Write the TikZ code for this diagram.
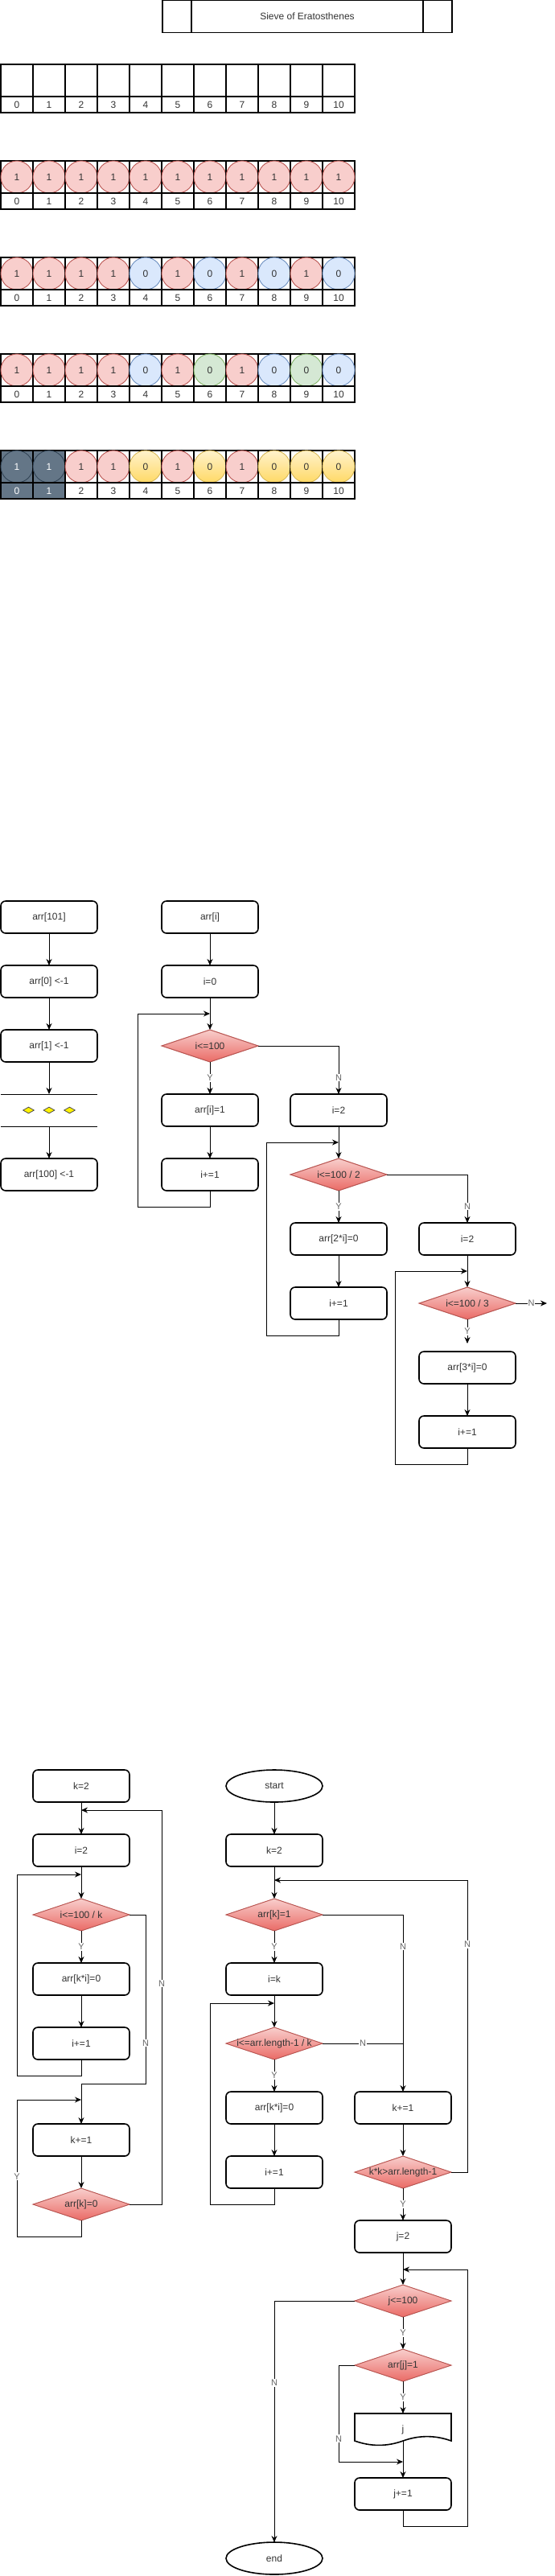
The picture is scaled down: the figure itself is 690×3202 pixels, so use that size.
\documentclass[tikz,border=0pt]{standalone}
\usepackage{fontspec}
\setmainfont{Liberation Sans}
\usepackage{tikz}
\usetikzlibrary{arrows.meta, positioning, shapes.geometric}
\definecolor{pkfill}{HTML}{F8CECC}
\definecolor{pkline}{HTML}{B85450}
\definecolor{blfill}{HTML}{DAE8FC}
\definecolor{blline}{HTML}{6C8EBF}
\definecolor{grfill}{HTML}{D5E8D4}
\definecolor{grline}{HTML}{82B366}
\definecolor{yltop}{HTML}{FFF2CC}
\definecolor{ylbot}{HTML}{FFD966}
\definecolor{ylline}{HTML}{D6B656}
\definecolor{dkfill}{HTML}{647687}
\definecolor{dkline}{HTML}{314354}
\definecolor{redbot}{HTML}{EA6B66}
\definecolor{txtgray}{HTML}{333333}
\definecolor{lblgray}{HTML}{666666}

\begin{document}
\begin{tikzpicture}[x=1pt, y=-1pt,
    box/.style={draw, line width=1.6pt, rounded corners=6pt, fill=white, outer sep=0pt, minimum width=120pt, minimum height=40pt, font=\fontsize{12}{14}\selectfont, text=txtgray},
    decision/.style={diamond, draw=pkline, line width=1pt, top color=pkfill, bottom color=redbot, outer sep=0pt, inner sep=0pt, minimum width=120pt, minimum height=40pt, font=\fontsize{12}{14}\selectfont, text=txtgray, execute at begin node={\hbox to 0pt\bgroup\hss}, execute at end node={\hss\egroup}},
    term/.style={ellipse, draw, line width=1.6pt, fill=white, outer sep=0pt, minimum width=120pt, minimum height=40pt, font=\fontsize{12}{14}\selectfont, text=txtgray},
    arr/.style={-{Stealth[length=8pt, width=7pt]}, line width=1pt},
    yn/.style={fill=white, text=lblgray, font=\fontsize{11}{12}\selectfont, inner sep=1pt},
    cell/.style={draw, line width=1.2pt, minimum width=40pt, minimum height=40pt, inner sep=0pt},
    idx/.style={draw, line width=1.2pt, minimum width=40pt, minimum height=20pt, inner sep=0pt, font=\fontsize{12}{14}\selectfont, text=txtgray},
    dot/.style={circle, minimum size=40pt, inner sep=0pt, line width=0.9pt, font=\fontsize{12}{14}\selectfont, text=txtgray},
    pk/.style={fill=pkfill, draw=pkline},
    bl/.style={fill=blfill, draw=blline},
    gr/.style={fill=grfill, draw=grline},
    yl/.style={top color=yltop, bottom color=ylbot, draw=ylline},
    dk/.style={fill=dkfill, draw=dkline, text=white}
  ]
    \useasboundingbox (0,0) rectangle (690,3202);

    % Title
    \node[draw, line width=1.2pt, outer sep=0pt, minimum width=360pt, minimum height=40pt, font=\fontsize{12}{14}\selectfont, text=txtgray] (title) at (382,20.5) {Sieve of Eratosthenes};
    \draw[line width=1.2pt] ([xshift=36pt]title.north west) -- ([xshift=36pt]title.south west);
    \draw[line width=1.2pt] ([xshift=-36pt]title.north east) -- ([xshift=-36pt]title.south east);

    % Empty array
    \foreach \n in {0,...,10} {
      \node[cell] (ra\n) at (21+40*\n,100) {};
      \node[idx] (rai\n) at (21+40*\n,130) {\n};
    }

    % All ones
    \foreach \n in {0,...,10} {
      \node[cell] (rb\n) at (21+40*\n,220) {};
      \node[dot, pk] (rbv\n) at (21+40*\n,220) {1};
      \node[idx] (rbi\n) at (21+40*\n,250) {\n};
    }

    % Multiples of 2
    \foreach \v/\s [count=\n from 0] in {1/pk,1/pk,1/pk,1/pk,0/bl,1/pk,0/bl,1/pk,0/bl,1/pk,0/bl} {
      \node[cell] (rc\n) at (21+40*\n,340) {};
      \node[dot, \s] (rcv\n) at (21+40*\n,340) {\v};
      \node[idx] (rci\n) at (21+40*\n,370) {\n};
    }

    % Multiples of 3
    \foreach \v/\s [count=\n from 0] in {1/pk,1/pk,1/pk,1/pk,0/bl,1/pk,0/gr,1/pk,0/bl,0/gr,0/bl} {
      \node[cell] (rd\n) at (21+40*\n,460) {};
      \node[dot, \s] (rdv\n) at (21+40*\n,460) {\v};
      \node[idx] (rdi\n) at (21+40*\n,490) {\n};
    }

    % Result
    \foreach \v/\s/\c/\t [count=\n from 0] in {1/dk/dkfill/white,1/dk/dkfill/white,1/pk/white/txtgray,1/pk/white/txtgray,0/yl/white/txtgray,1/pk/white/txtgray,0/yl/white/txtgray,1/pk/white/txtgray,0/yl/white/txtgray,0/yl/white/txtgray,0/yl/white/txtgray} {
      \node[cell, fill=\c] (re\n) at (21+40*\n,580) {};
      \node[dot, \s] (rev\n) at (21+40*\n,580) {\v};
      \node[idx, fill=\c, text=\t] (rei\n) at (21+40*\n,610) {\n};
    }

    % Array setup
    \node[box] (a101) at (61,1140) {arr[101]};
    \node[box, below=40pt of a101] (a0) {arr[0] <-1};
    \node[box, below=40pt of a0] (a1) {arr[1] <-1};
    \coordinate (gaptop) at (61,1360);
    \coordinate (gapmid) at (61,1380);
    \coordinate (gapbot) at (61,1400);
    \node[box, below=40pt of gapbot] (a100) {arr[100] <-1};
    \draw[line width=1pt] ([xshift=-60pt]gaptop) -- ([xshift=60pt]gaptop);
    \draw[line width=1pt] ([xshift=-60pt]gapbot) -- ([xshift=60pt]gapbot);
    \foreach \dx [count=\i] in {-25.5,0,25.5}
      \node[diamond, draw=black!70, fill=yellow, line width=0.8pt, minimum width=14pt, minimum height=8pt, inner sep=0pt] (gd\i) at ([xshift=\dx pt]gapmid) {};
    \draw[arr] (a101) -- (a0);
    \draw[arr] (a0) -- (a1);
    \draw[arr] (a1) -- (gaptop);
    \draw[arr] (gapbot) -- (a100);

    % Fill with ones, then strike 2 and 3
    \node[box] (ai) at (261,1140) {arr[i]};
    \node[box, below=40pt of ai] (i0) {i=0};
    \node[decision, below=40pt of i0] (c100) {i<=100};
    \node[box, below=40pt of c100] (set1) {arr[i]=1};
    \node[box, below=40pt of set1] (inc1) {i+=1};
    \node[box, right=40pt of set1] (i2a) {i=2};
    \node[decision, below=40pt of i2a] (c50) {i<=100 / 2};
    \node[box, below=40pt of c50] (set2) {arr[2*i]=0};
    \node[box, below=40pt of set2] (inc2) {i+=1};
    \node[box, right=40pt of set2] (i2b) {i=2};
    \node[decision, below=40pt of i2b] (c33) {i<=100 / 3};
    \node[box, below=40pt of c33] (set3) {arr[3*i]=0};
    \node[box, below=40pt of set3] (inc3) {i+=1};
    \coordinate (back1) at (261,1260);
    \coordinate (back2) at (421,1420);
    \coordinate (back3) at (581,1580);
    \coordinate (c33y) at (581,1670);
    \coordinate (c33n) at (680,1620);

    \draw[arr] (ai) -- (i0);
    \draw[arr] (i0) -- (c100);
    \draw[arr] (c100) -- node[yn] (y1) {Y} (set1);
    \draw[arr] (set1) -- (inc1);
    \draw[arr] (inc1.south) -- ++(0,20) -| ([xshift=-90pt]back1) -- (back1);
    \draw[arr] (c100.east) -| node[yn, pos=0.83] (n1) {N} (i2a);
    \draw[arr] (i2a) -- (c50);
    \draw[arr] (c50) -- node[yn] (y2) {Y} (set2);
    \draw[arr] (set2) -- (inc2);
    \draw[arr] (inc2.south) -- ++(0,20) -| ([xshift=-90pt]back2) -- (back2);
    \draw[arr] (c50.east) -| node[yn, pos=0.83] (n2) {N} (i2b);
    \draw[arr] (i2b) -- (c33);
    \draw[arr] (c33) -- node[yn] (y3) {Y} (c33y);
    \draw[arr] (c33) -- node[yn] (n3) {N} (c33n);
    \draw[arr] (set3) -- (inc3);
    \draw[arr] (inc3.south) -- ++(0,20) -| ([xshift=-90pt]back3) -- (back3);

    % Sieve with k
    \node[box] (k2a) at (101,2220) {k=2};
    \node[box, below=40pt of k2a] (i2c) {i=2};
    \node[decision, below=40pt of i2c] (ck) {i<=100 / k};
    \node[box, below=40pt of ck] (setk) {arr[k*i]=0};
    \node[box, below=40pt of setk] (inck) {i+=1};
    \node[box, below=80pt of inck] (kinc) {k+=1};
    \node[decision, below=40pt of kinc] (ck0) {arr[k]=0};
    \coordinate (backA) at (101,2330);
    \coordinate (backB) at (101,2610);
    \coordinate (backC) at (101,2250);

    \draw[arr] (k2a) -- (i2c);
    \draw[arr] (i2c) -- (ck);
    \draw[arr] (ck) -- node[yn] (y4) {Y} (setk);
    \draw[arr] (setk) -- (inck);
    \draw[arr] (inck.south) -- ++(0,20) -| ([xshift=-80pt]backA) -- (backA);
    \draw[arr] (ck.east) -- ++(20,0) |- node[yn, pos=0.38] (n4) {N} ([yshift=50pt]kinc.north) -- (kinc);
    \draw[arr] (kinc) -- (ck0);
    \draw[arr] (ck0.south) -- ++(0,20) -| node[yn, pos=0.72] (y5) {Y} ([xshift=-80pt]backB) -- (backB);
    \draw[arr] (ck0.east) -- ++(40,0) |- node[yn, pos=0.28] (n5) {N} (backC);

    % Full algorithm
    \node[term] (start) at (341,2220) {start};
    \node[box, below=40pt of start] (k2b) {k=2};
    \node[decision, below=40pt of k2b] (c1) {arr[k]=1};
    \node[box, below=40pt of c1] (ik) {i=k};
    \node[decision, below=40pt of ik] (clen) {i<=arr.length-1 / k};
    \node[box, below=40pt of clen] (setk2) {arr[k*i]=0};
    \node[box, below=40pt of setk2] (inck2) {i+=1};
    \node[box, right=40pt of setk2] (kinc2) {k+=1};
    \node[decision, below=40pt of kinc2] (ckk) {k*k>arr.length-1};
    \node[box, below=40pt of ckk] (j2) {j=2};
    \node[decision, below=40pt of j2] (cj) {j<=100};
    \node[decision, below=40pt of cj] (cj1) {arr[j]=1};
    \node[minimum width=120pt, minimum height=40pt, outer sep=0pt, inner sep=0pt, font=\fontsize{12}{14}\selectfont, text=txtgray, below=40pt of cj1] (jdoc) {j};
    \draw[line width=1.6pt, shift={(jdoc.north west)}] (0,0) -- (120,0) -- (120,34) .. controls (100,26.8) and (80,26.8) .. (60,34) .. controls (40,41.2) and (20,41.2) .. (0,34) -- cycle;
    \node[box, below=40pt of jdoc] (jinc) {j+=1};
    \node[term] (endn) at (341,3180) {end};
    \coordinate (backD) at (341,2490);
    \coordinate (backE) at (341,2337);
    \coordinate (backF) at (501,2821);
    \coordinate (backG) at (501,3060);

    \draw[arr] (start) -- (k2b);
    \draw[arr] (k2b) -- (c1);
    \draw[arr] (c1) -- node[yn] (y6) {Y} (ik);
    \draw[arr] (c1.east) -| node[yn, pos=0.59] (n6) {N} (kinc2);
    \draw[arr] (ik) -- (clen);
    \draw[arr] (clen) -- node[yn] (y7) {Y} (setk2);
    \draw[line width=1pt] (clen.east) -- node[yn] (n7) {N} (clen.east -| kinc2);
    \draw[arr] (setk2) -- (inck2);
    \draw[arr] (inck2.south) -- ++(0,20) -| ([xshift=-80pt]backD) -- (backD);
    \draw[arr] (kinc2) -- (ckk);
    \draw[arr] (ckk.east) -- ++(20,0) |- node[yn, pos=0.39] (n8) {N} (backE);
    \draw[arr] (ckk) -- node[yn] (y8) {Y} (j2);
    \draw[arr] (j2) -- (cj);
    \draw[arr] (cj) -- node[yn] (y9) {Y} (cj1);
    \draw[arr] (cj.west) -| node[yn, pos=0.67] (n9) {N} (endn);
    \draw[arr] (cj1) -- node[yn] (y10) {Y} (jdoc);
    \draw[arr] (cj1.west) -- ++(-20,0) |- node[yn, pos=0.38] (n10) {N} (backG);
    \draw[arr] ([yshift=-14pt]jdoc.center) -- (jinc);
    \draw[arr] (jinc.south) -- ++(0,20) -| ([xshift=80pt]backF) -- (backF);
  \end{tikzpicture}
\end{document}
